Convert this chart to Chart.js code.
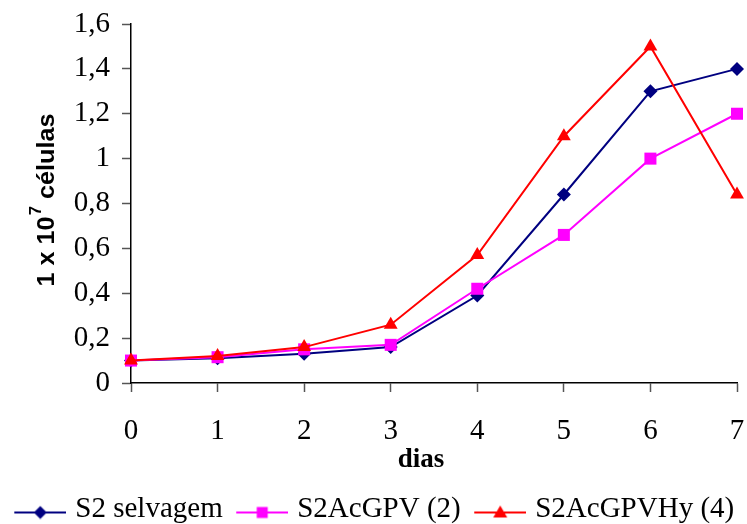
<!DOCTYPE html>
<html>
<head>
<meta charset="utf-8">
<title>Crescimento celular</title>
<script src="https://cdn.jsdelivr.net/npm/chart.js"></script>
<style>
  html, body { margin: 0; padding: 0; background: #fff; }
  #wrap { width: 747px; height: 524px; }
</style>
</head>
<body>
<div id="wrap"><canvas id="growthChart" width="747" height="524"></canvas></div>
<script>
const dias = [0, 1, 2, 3, 4, 5, 6, 7];
const selvagem = [0.10, 0.11, 0.13, 0.16, 0.39, 0.84, 1.30, 1.40];
const acGPV = [0.10, 0.115, 0.15, 0.17, 0.42, 0.66, 1.00, 1.20];
const acGPVHy = [0.10, 0.12, 0.16, 0.26, 0.57, 1.10, 1.50, 0.84];
const yTicks = [0, 0.2, 0.4, 0.6, 0.8, 1, 1.2, 1.4, 1.6];

const serif = '"Liberation Serif", "Times New Roman", serif';
const sans = '"Liberation Sans", Arial, sans-serif';

function pts(vals) {
    return dias.map((d, i) => ({ x: d, y: vals[i] }));
}

// legend swatch: short line with the marker in the middle (drawn in the right 52px)
function legendIcon(color, style) {
    const c = document.createElement('canvas');
    c.width = 69; c.height = 20;
    const g = c.getContext('2d');
    const x0 = 17, cx = 43, cy = 13;
    g.strokeStyle = color; g.lineWidth = 2;
    g.beginPath(); g.moveTo(x0, cy); g.lineTo(69, cy); g.stroke();
    g.fillStyle = color;
    g.beginPath();
    if (style === 'rectRot') {
        g.moveTo(cx, cy - 6.5); g.lineTo(cx + 6.5, cy); g.lineTo(cx, cy + 6.5); g.lineTo(cx - 6.5, cy);
    } else if (style === 'rect') {
        g.rect(cx - 5.5, cy - 5.5, 11, 11);
    } else {
        g.moveTo(cx, cy - 7); g.lineTo(cx + 7, cy + 5); g.lineTo(cx - 7, cy + 5);
    }
    g.closePath(); g.fill();
    return c;
}

const series = [
    { label: 'S2 selvagem', vals: selvagem, color: '#000080', style: 'rectRot', r: 7, order: 2 },
    { label: 'S2AcGPV (2)', vals: acGPV, color: '#FF00FF', style: 'rect', r: 8.5, order: 1 },
    { label: 'S2AcGPVHy (4)', vals: acGPVHy, color: '#FF0000', style: 'triangle', r: 8, order: 0 }
];

// axis titles: rotated y title with superscript, and "dias" under the x ticks
const titlesPlugin = {
    id: 'axisTitles',
    afterDraw(chart) {
        const ctx = chart.ctx;
        const big = 'bold 24px ' + sans;
        const small = 'bold 16px ' + sans;
        ctx.save();
        ctx.fillStyle = '#000';
        ctx.translate(54, 200);
        ctx.rotate(-Math.PI / 2);
        ctx.scale(1.05, 1);
        ctx.textBaseline = 'alphabetic';
        ctx.textAlign = 'left';
        ctx.font = big;
        const a = '1 x 10', b = ' células';
        const wa = ctx.measureText(a).width;
        const wb = ctx.measureText(b).width;
        ctx.font = small;
        const ws = ctx.measureText('7').width + 1;
        let x = -(wa + ws + wb) / 2;
        ctx.font = big;
        ctx.fillText(a, x, 0);
        x += wa;
        ctx.font = small;
        ctx.fillText('7', x + 1, -13);
        x += ws;
        ctx.font = big;
        ctx.fillText(b, x, 0);
        ctx.restore();

        ctx.save();
        ctx.fillStyle = '#000';
        ctx.font = 'bold 27px ' + serif;
        ctx.textAlign = 'center';
        ctx.textBaseline = 'middle';
        ctx.fillText('dias', 421, 460);
        ctx.restore();
    }
};

new Chart(document.getElementById('growthChart').getContext('2d'), {
    type: 'line',
    data: {
        datasets: series.map(s => ({
            label: s.label,
            data: pts(s.vals),
            order: s.order,
            borderColor: s.color,
            backgroundColor: s.color,
            borderWidth: 2,
            pointStyle: s.style,
            pointRadius: s.r,
            pointHoverRadius: s.r,
            pointBorderWidth: 0,
            tension: 0,
            clip: false
        }))
    },
    options: {
        responsive: false,
        animation: false,
        layout: { padding: { left: 0, right: 10, top: 24, bottom: -10 } },
        plugins: {
            tooltip: { enabled: false },
            legend: {
                position: 'bottom',
                labels: {
                    usePointStyle: true,
                    pointStyleWidth: 58,
                    padding: 2,
                    color: '#000',
                    font: { family: serif, size: 29 },
                    generateLabels() {
                        return series.map((s, i) => ({
                            text: s.label,
                            pointStyle: legendIcon(s.color, s.style),
                            fillStyle: s.color,
                            strokeStyle: s.color,
                            lineWidth: 0,
                            datasetIndex: i,
                            fontColor: '#000'
                        }));
                    }
                }
            }
        },
        scales: {
            x: {
                type: 'linear',
                min: 0,
                max: 7,
                afterFit(scale) {
                    scale.height = 110;
                    scale.paddingLeft = 0;
                    scale.paddingRight = 0;
                },
                ticks: { stepSize: 1, color: '#000', font: { family: serif, size: 29 }, padding: 22 },
                grid: { drawOnChartArea: false, drawTicks: true, tickLength: 9, tickColor: '#555', tickWidth: 1.5 },
                border: { color: '#000', width: 1.5 }
            },
            y: {
                min: 0,
                max: 1.6,
                afterBuildTicks(scale) {
                    scale.ticks = yTicks.map(v => ({ value: v }));
                },
                afterFit(scale) {
                    scale.width = 131;
                    scale.paddingTop = 0;
                    scale.paddingBottom = 0;
                },
                ticks: {
                    color: '#000',
                    font: { family: serif, size: 29 },
                    padding: 12,
                    callback: v => String(Math.round(v * 10) / 10).replace('.', ',')
                },
                grid: { drawOnChartArea: false, drawTicks: true, tickLength: 9, tickColor: '#555', tickWidth: 1.5 },
                border: { color: '#000', width: 1.5 }
            }
        }
    },
    plugins: [titlesPlugin]
});
</script>
</body>
</html>
